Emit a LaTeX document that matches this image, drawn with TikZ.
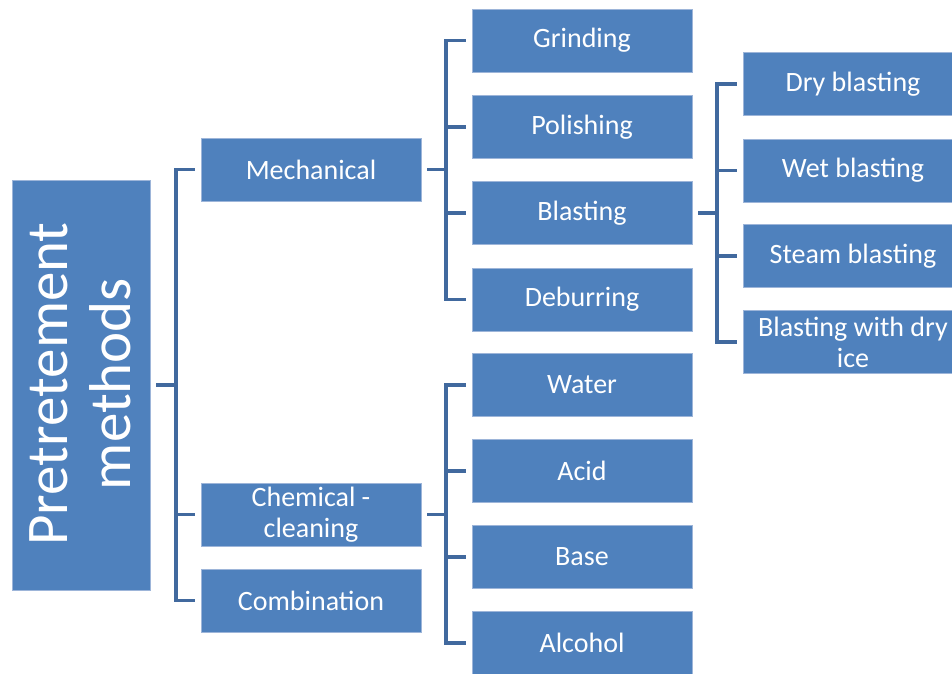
\documentclass[tikz,border=0pt]{standalone}
\usepackage{fontspec}
\setmainfont{Carlito}
\definecolor{boxblue}{HTML}{4F81BD}
\definecolor{boxedge}{HTML}{9DB5D9}
\definecolor{connblue}{HTML}{41699E}
\tikzset{
  box/.style={fill=boxblue, draw=boxedge, line width=0.6pt, text=white,
    font=\fontsize{28}{31}\selectfont, align=center, inner sep=0pt,
    minimum width=220pt, minimum height=63pt},
  rootbox/.style={fill=boxblue, draw=boxedge, line width=0.6pt,
    minimum width=138pt, minimum height=410pt, inner sep=0pt},
  conn/.style={draw=connblue, line width=3.8pt, line join=miter, line cap=butt}
}
\begin{document}
\begin{tikzpicture}[x=1pt,y=-1pt]
\useasboundingbox (0,0) rectangle (952,673);
% root
\node[rootbox] (root) at (81,385) {};
\node[text=white, rotate=90, align=center, font=\fontsize{59}{63}\selectfont] (roottext) at (80,384) {Pretretement\\methods};
% level 2
\node[box] (mech) at (311,169.5) {Mechanical};
\node[box] (chem) at (311,514.5) {Chemical -\\cleaning};
\node[box] (comb) at (311,600.5) {Combination};
% level 3
\node[box] (grind) at (582,40.5) {Grinding};
\node[box] (pol) at (582,127) {Polishing};
\node[box] (blast) at (582,213) {Blasting};
\node[box] (deb) at (582,299.5) {Deburring};
\node[box] (water) at (582,385) {Water};
\node[box] (acid) at (582,471) {Acid};
\node[box] (base) at (582,557) {Base};
\node[box] (alc) at (582,643) {Alcohol};
% level 4
\node[box] (dry) at (853,84) {Dry blasting};
\node[box] (wet) at (853,170.5) {Wet blasting};
\node[box] (steam) at (853,256) {Steam blasting};
\node[box] (ice) at (853,342) {Blasting with dry\\ice};
% junctions
\coordinate (jr) at (176,385);
\coordinate (jm) at (446,169.5);
\coordinate (jc) at (446,514.5);
\coordinate (jb) at (717,213);
% root bracket
\draw[conn] ([xshift=6pt]root.east) -- (jr);
\draw[conn] ([xshift=-6pt]mech.west) -| (jr) |- ([xshift=-6pt]comb.west);
\draw[conn] (jr) |- ([xshift=-6pt]chem.west);
% mechanical bracket
\draw[conn] ([xshift=6pt]mech.east) -- (jm);
\draw[conn] ([xshift=-6pt]grind.west) -| (jm) |- ([xshift=-6pt]deb.west);
\draw[conn] (jm) |- ([xshift=-6pt]pol.west);
\draw[conn] (jm) |- ([xshift=-6pt]blast.west);
% chemical bracket
\draw[conn] ([xshift=6pt]chem.east) -- (jc);
\draw[conn] ([xshift=-6pt]water.west) -| (jc) |- ([xshift=-6pt]alc.west);
\draw[conn] (jc) |- ([xshift=-6pt]acid.west);
\draw[conn] (jc) |- ([xshift=-6pt]base.west);
% blasting bracket
\draw[conn] ([xshift=6pt]blast.east) -- (jb);
\draw[conn] ([xshift=-6pt]dry.west) -| (jb) |- ([xshift=-6pt]ice.west);
\draw[conn] (jb) |- ([xshift=-6pt]wet.west);
\draw[conn] (jb) |- ([xshift=-6pt]steam.west);
\end{tikzpicture}
\end{document}
